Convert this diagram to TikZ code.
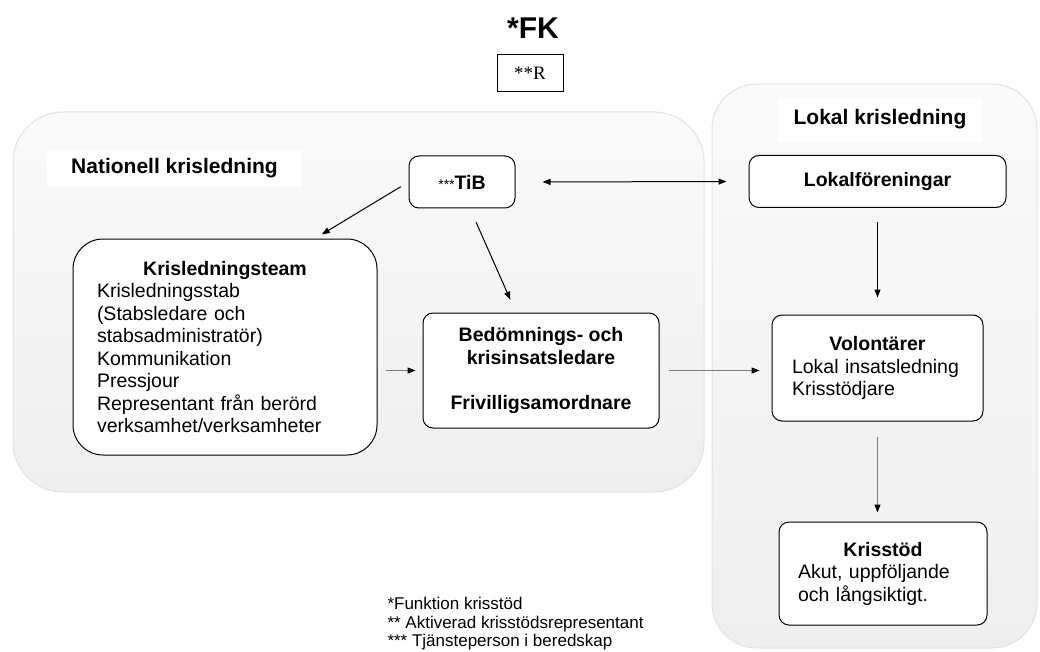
\documentclass[tikz,border=0pt]{standalone}
\usepackage{fontspec}
\setmainfont{Liberation Sans}
\newfontfamily\rmserif{Liberation Serif}
\usepackage{tikz}
\usetikzlibrary{positioning}
\usetikzlibrary{arrows.meta}
\usetikzlibrary{calc}
\definecolor{mytop}{RGB}{250,250,250}
\definecolor{mygray}{RGB}{239,239,239}
\definecolor{myedge}{RGB}{226,226,226}
\definecolor{mylink}{RGB}{125,125,125}
\newcommand{\bodysize}{\fontsize{19.5}{22.5}\selectfont}
\tikzset{box node/.style={rectangle,rounded corners=10pt,draw,line width=1pt,fill=white,inner sep=0pt},
  group box/.style={draw=myedge,line width=1pt,top color=mytop,bottom color=mygray},
  title node/.style={fill=white,inner sep=0pt,font=\fontsize{21}{24}\selectfont\bfseries},
  link/.style={draw=mylink,line width=1.2pt},}

\begin{document}
\begin{tikzpicture}[x=1pt, y=-1pt, >={Triangle[length=8pt,width=6pt]}, line width=1pt]
    \useasboundingbox (0,0) rectangle (1040,652);
    % the two areas
    \draw[group box, rounded corners=50pt] (13,112) rectangle (704,492);
    \draw[group box, rounded corners=45pt] (712,84) rectangle (1037,648);

    \node[inner sep=0pt, font=\fontsize{30}{34}\selectfont\bfseries] (fk) at (533,28) {*FK};
    \node[draw, line width=1pt, inner sep=0pt, minimum width=66pt, minimum height=37pt, font=\rmserif\fontsize{19}{22}\selectfont] (rbox) [below=15pt of fk, xshift=-3pt] {**R};

    \node[title node, minimum width=255pt, minimum height=37pt] (natlabel) at (174.5,168.5) {Nationell krisledning};
    \node[title node, minimum width=206pt, minimum height=45pt] (loklabel) at (880,119.5) {Lokal krisledning};

    \node[box node, minimum width=106pt, minimum height=52pt, font=\bodysize] (tib) at (462,182) {{\fontsize{14}{15}\selectfont ***}\textbf{TiB}};
    \node[box node, minimum width=257pt, minimum height=52pt, font=\bodysize\bfseries] (lokal) at (877.5,181.5) {Lokalföreningar};
    \node[box node, rounded corners=30pt, minimum width=304pt, minimum height=216pt, text width=256pt, font=\bodysize] (team) at (225,347)
        {{\centering\bfseries Krisledningsteam\par}Krisledningsstab\\(Stabsledare och\\stabsadministratör)\\Kommunikation\\Pressjour\\Representant från berörd\\verksamhet/verksamheter};
    \node[box node, minimum width=236pt, minimum height=115pt, align=center, font=\bodysize\bfseries] (bed) at (541,370.5)
        {Bedömnings- och\\krisinsatsledare\\[22.5pt]Frivilligsamordnare};
    \node[box node, minimum width=211pt, minimum height=106pt, text width=171pt, font=\bodysize] (vol) at (877.5,368)
        {{\centering\bfseries Volontärer\par}Lokal insatsledning\\Krisstödjare\par\vspace{10pt}};
    \node[box node, minimum width=208pt, minimum height=103pt, text width=170pt, font=\bodysize] (stod) at (883,573.5)
        {{\centering\bfseries Krisstöd\par}Akut, uppföljande\\och långsiktigt.\par\vspace{11pt}};

    \node[anchor=north west, inner sep=0pt, align=left, font=\fontsize{17}{18.5}\selectfont] (notes) at (387,597)
        {*Funktion krisstöd\\** Aktiverad krisstödsrepresentant\\*** Tjänsteperson i beredskap};

    \path[draw]
    (tib.west) edge [->, shorten <=9pt, shorten >=8pt] ([xshift=90pt]team.north)
    ([xshift=8pt]tib.south) edge [->, shorten <=15pt, shorten >=14pt] ([xshift=-25pt]bed.north)
    (lokal.south) edge [->, shorten <=14pt, shorten >=17pt] (vol.north)
    (tib.east) edge [<->, shorten <=27pt, shorten >=22pt] (lokal.west);
    % grey lines with black heads
    \draw[link, -{Triangle[color=black,length=8pt,width=6pt]}, shorten <=8pt, shorten >=7pt] (team.east |- bed.west) -- (bed.west);
    \draw[link, -{Triangle[color=black,length=8pt,width=6pt]}, shorten <=9pt, shorten >=12pt] (bed.east) -- (bed.east -| vol.west);
    \draw[link, -{Triangle[color=black,length=8pt,width=6pt]}, shorten <=15pt, shorten >=9pt] (vol.south) -- (vol.south |- stod.north);
\end{tikzpicture}
\end{document}
